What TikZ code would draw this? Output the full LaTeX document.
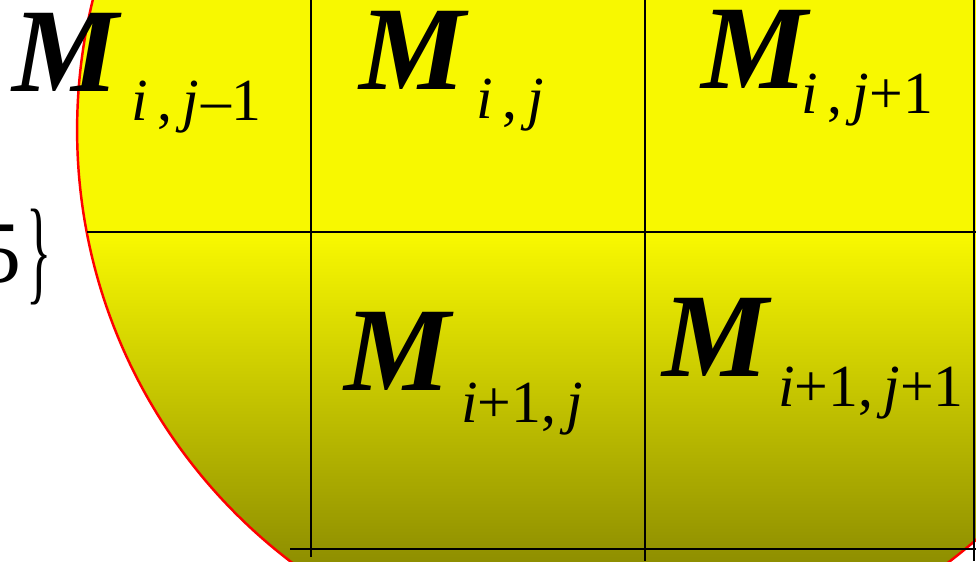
\documentclass[tikz,border=0pt]{standalone}
\usepackage{graphicx}
\usepackage{fontspec}
\setmainfont{Liberation Serif}

\definecolor{discyellow}{RGB}{248,248,0}
\definecolor{discolive}{RGB}{143,143,0}
\pgfdeclareverticalshading{discshade}{100bp}{color(0bp)=(discolive); color(25bp)=(discolive); color(54bp)=(discyellow); color(100bp)=(discyellow)}

\tikzset{
  bigM/.style={anchor=base west,inner sep=0pt,font=\fontsize{68}{68}\selectfont\bfseries\itshape},
  subidx/.style={anchor=base west,inner sep=0pt,font=\fontsize{34}{34}\selectfont},
  cellline/.style={line width=1pt}
}

\begin{document}
\begin{tikzpicture}[x=0.02cm,y=-0.02cm]
\clip (0,0) rectangle (976,561);

% the disc
\coordinate (O) at (620,130);
\begin{scope}
\clip (O) circle (10.86cm);
\shade[shading=discshade] (0,0) rectangle (976,561);
\end{scope}
\draw[red,line width=1.4pt] (O) circle (10.86cm);

% cells
\draw[cellline] (311,0) -- (311,557);
\draw[cellline] (645,0) -- (645,561);
\draw[cellline] (974,0) -- (974,561);
\draw[cellline] (87,232) -- (976,232);
\draw[cellline] (290,549) -- (976,549);

\node[bigM] (m1) at (12,91) {M};
\node[subidx] (s1) at (131,120) {\textit{i}\,,\,\textit{j}\kern1pt–1};
\node[bigM] (m2) at (359,89) {M};
\node[subidx] (s2) at (476,118) {\textit{i}\,,\,\textit{j}};
\node[bigM] (m3) at (701,88) {M};
\node[subidx] (s3) at (801,113) {\textit{i}\,,\,\textit{j}+1};
\node[bigM] (m4) at (344,390) {M};
\node[subidx] (s4) at (461,422) {\textit{i}+1,\,\textit{j}};
\node[bigM] (m5) at (662,376) {M};
\node[subidx] (s5) at (778,406) {\textit{i}+1,\,\textit{j}+1};

\node[anchor=base east,inner sep=0pt,font=\fontsize{50}{50}\selectfont] (brc) at (52,282) {5\kern3pt\raisebox{-4pt}{\scalebox{0.6}[1.32]{\}}}};
\end{tikzpicture}
\end{document}
